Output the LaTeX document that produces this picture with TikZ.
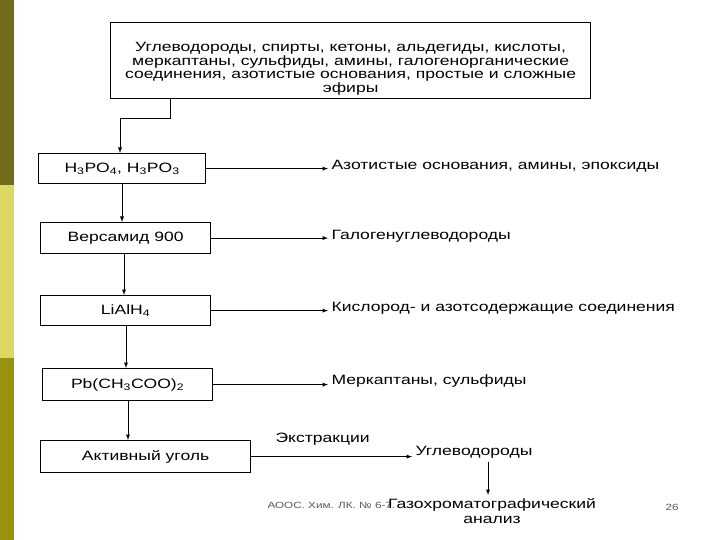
\documentclass[tikz,border=0pt]{standalone}
\usepackage{fontspec}
\setmainfont[FakeStretch=1.3]{Liberation Sans}
\begin{document}
\begin{tikzpicture}[x=1pt,y=-1pt,
 bx/.style={draw,line width=1.2pt,anchor=north west,inner sep=0pt,font=\fontsize{13.5}{15}\selectfont},
 lb/.style={anchor=west,font=\fontsize{13.5}{15}\selectfont},
 ar/.style={-latex,line width=0.9pt}]
\useasboundingbox (0,0) rectangle (720,540);
\fill[white] (0,0) rectangle (720,540);
\fill[olive!75!black] (0,0) rectangle (14,185);
\fill[yellow!45!olive!55!white] (0,185) rectangle (14,358);
\fill[olive!90] (0,358) rectangle (14,540);
\node[bx,minimum width=480,minimum height=76,align=center,font=\fontsize{13.5}{13.5}\selectfont] (top) at (110,22)
 {\rule{0pt}{26pt}Углеводороды, спирты, кетоны, альдегиды, кислоты,\\ меркаптаны, сульфиды, амины, галогенорганические\\ соединения, азотистые основания, простые и сложные\\ эфиры};
\node[bx,minimum width=167,minimum height=30] (b1) at (38,153) {H\textsubscript{3}PO\textsubscript{4}, H\textsubscript{3}PO\textsubscript{3}};
\node[bx,minimum width=170,minimum height=31] (b2) at (40,222) {Версамид 900};
\node[bx,minimum width=170,minimum height=30] (b3) at (40,295) {LiAlH\textsubscript{4}};
\node[bx,minimum width=170,minimum height=32] (b4) at (42,368) {Pb(CH\textsubscript{3}COO)\textsubscript{2}};
\node[bx,minimum width=210,minimum height=32] (b5) at (40,440) {Активный уголь};
\node[lb] (t1) at (328,166) {Азотистые основания, амины, эпоксиды};
\node[lb] (t2) at (328,236) {Галогенуглеводороды};
\node[lb] (t3) at (328,308) {Кислород- и азотсодержащие соединения};
\node[lb] (t4) at (328,381) {Меркаптаны, сульфиды};
\node[lb] (t5) at (412,452) {Углеводороды};
\node[lb] (ex) at (272,439) {Экстракции};
\node[anchor=west,font=\fontsize{9}{10}\selectfont,text=gray!70!black] (ft) at (264,505) {АООС. Хим. ЛК. № 6-7.};
\node[anchor=north,align=center,font=\fontsize{13.5}{15}\selectfont] (ga) at (492,495) {Газохроматографический\\ анализ};
\node[font=\fontsize{9}{10}\selectfont,text=gray!70!black] (pg) at (672,507) {26};
\coordinate (c0) at (170,98);
\draw[ar] (c0) |- (120,118) -- (b1.north west -| 120,0);
\draw[ar] (b1.south -| 122,0) -- (b2.north -| 122,0);
\draw[ar] (b2.south -| 124,0) -- (b3.north -| 124,0);
\draw[ar] (b3.south -| 126,0) -- (b4.north -| 126,0);
\draw[ar] (b4.south -| 128,0) -- (b5.north -| 128,0);
\draw[ar] (b1.east) -- (b1.east -| t1.west);
\draw[ar] (b2.east) -- (b2.east -| t2.west);
\draw[ar] (b3.east) -- (b3.east -| t3.west);
\draw[ar] (b4.east) -- (b4.east -| t4.west);
\draw[ar] (b5.east) -- (b5.east -| t5.west);
\draw[ar] (t5.south -| 488,0) -- (ga.north -| 488,0);
\end{tikzpicture}
\end{document}
